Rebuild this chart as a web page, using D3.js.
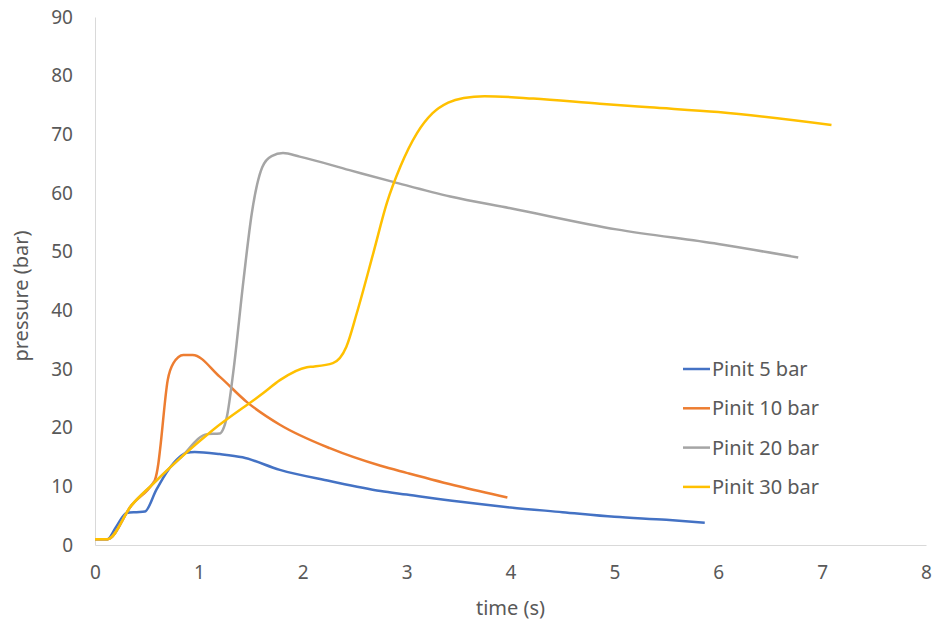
<!DOCTYPE html>
<html>
<head>
<meta charset="utf-8">
<script src="https://cdn.jsdelivr.net/npm/d3@7"></script>
<style>
  body { margin: 0; background: #fff; }
  text { font-family: "Noto Sans", "Open Sans", sans-serif; fill: #595959; }
</style>
</head>
<body>
<div id="chart"></div>
<script>
// data
var xTicks = [0, 1, 2, 3, 4, 5, 6, 7, 8];
var yTicks = [0, 10, 20, 30, 40, 50, 60, 70, 80, 90];
var seriesNames = ["Pinit 5 bar", "Pinit 10 bar", "Pinit 20 bar", "Pinit 30 bar"];
var seriesColors = ["#4472C4", "#ED7D31", "#A5A5A5", "#FFC000"];

var t5 = [0, 0.12, 0.2, 0.305, 0.4, 0.48, 0.59, 0.705, 0.88, 0.96, 1.2, 1.42, 1.78, 2.26, 2.75, 3.0, 3.5, 4.0, 4.5, 5.0, 5.5, 5.87];
var p5 = [1.0, 1.0, 3.0, 5.45, 5.6, 5.7, 9.4, 12.8, 15.7, 15.85, 15.5, 14.95, 12.8, 10.9, 9.2, 8.6, 7.4, 6.4, 5.6, 4.8, 4.3, 3.8];

var t10 = [0, 0.12, 0.353, 0.56, 0.577, 0.61, 0.626, 0.70, 0.755, 0.85, 0.94, 1.2, 1.46, 1.78, 2.26, 2.75, 3.0, 3.5, 3.97];
var p10 = [1.0, 1.0, 6.8, 10.6, 11.1, 13.9, 16.2, 28.1, 31.0, 32.4, 32.4, 28.7, 24.4, 20.5, 16.5, 13.5, 12.3, 10.0, 8.1];

var t20 = [0, 0.12, 0.353, 0.546, 0.82, 1.08, 1.2, 1.23, 1.27, 1.33, 1.43, 1.51, 1.56, 1.61, 1.70, 1.81, 1.97, 2.45, 2.87, 3.42, 4.0, 5.02, 6.0, 6.77];
var p20 = [1.0, 1.0, 6.8, 10.2, 14.8, 18.9, 19.0, 19.6, 21.9, 29.3, 45.2, 56.6, 61.4, 64.4, 66.3, 66.8, 66.2, 63.9, 61.9, 59.4, 57.4, 53.8, 51.3, 49.0];

var t30 = [0, 0.12, 0.353, 0.546, 0.82, 1.135, 1.62, 1.78, 2.04, 2.10, 2.29, 2.42, 2.52, 2.68, 2.81, 2.94, 3.10, 3.25, 3.40, 3.55, 3.75, 4.22, 4.86, 5.34, 6.0, 7.09];
var p30 = [1.0, 1.0, 6.8, 10.2, 14.8, 19.6, 25.9, 28.1, 30.3, 30.4, 31.0, 33.8, 39.5, 49.8, 58.3, 64.5, 70.2, 73.6, 75.4, 76.2, 76.5, 76.1, 75.2, 74.6, 73.8, 71.6];

var times = [t5, t10, t20, t30];
var pressures = [p5, p10, p20, p30];

var width = 932, height = 623;
var margin = {top: 17, right: 6, bottom: 78, left: 95};

var svg = d3.select("#chart").append("svg")
    .attr("width", width)
    .attr("height", height);

var x = d3.scaleLinear().domain([0, 8]).range([margin.left, width - margin.right]);
var y = d3.scaleLinear().domain([0, 90]).range([height - margin.bottom, margin.top]);

// axes (Excel style: no ticks, light axis lines)
var xAxis = d3.axisBottom(x).tickValues(xTicks).tickSize(0).tickPadding(21).tickFormat(d3.format("d"));
var yAxis = d3.axisLeft(y).tickValues(yTicks).tickSize(0).tickPadding(22).tickFormat(d3.format("d"));

svg.append("g")
    .attr("transform", "translate(0," + y(0) + ")")
    .call(xAxis);
svg.append("g")
    .attr("transform", "translate(" + x(0) + ",0)")
    .call(yAxis);

svg.selectAll(".domain").attr("stroke", "#D9D9D9").attr("stroke-width", 1);
svg.selectAll(".tick text")
    .attr("font-size", "19px")
    .attr("fill", "#595959")
    .style("font-family", '"Noto Sans", sans-serif');

// axis titles
svg.append("text")
    .attr("x", x(4))
    .attr("y", 615)
    .attr("text-anchor", "middle")
    .attr("font-size", "20px")
    .text("time (s)");

svg.append("text")
    .attr("transform", "translate(28,296) rotate(-90)")
    .attr("text-anchor", "middle")
    .attr("font-size", "20px")
    .text("pressure (bar)");

// lines
var line = d3.line()
    .x(function(d) { return x(d[0]); })
    .y(function(d) { return y(d[1]); })
    .curve(d3.curveMonotoneX);

seriesNames.forEach(function(name, i) {
  var pts = times[i].map(function(t, j) { return [t, pressures[i][j]]; });
  svg.append("path")
      .datum(pts)
      .attr("fill", "none")
      .attr("stroke", seriesColors[i])
      .attr("stroke-width", 2.5)
      .attr("stroke-linejoin", "round")
      .attr("d", line);
});

// legend
var legend = svg.append("g").attr("transform", "translate(683,369)");
seriesNames.forEach(function(name, i) {
  var row = legend.append("g").attr("transform", "translate(0," + (i * 39.3) + ")");
  row.append("line")
      .attr("x1", 0).attr("x2", 27)
      .attr("y1", 0).attr("y2", 0)
      .attr("stroke", seriesColors[i])
      .attr("stroke-width", 2.5);
  row.append("text")
      .attr("x", 29)
      .attr("y", 0)
      .attr("dy", "0.35em")
      .attr("font-size", "20px")
      .text(name);
});
</script>
</body>
</html>
